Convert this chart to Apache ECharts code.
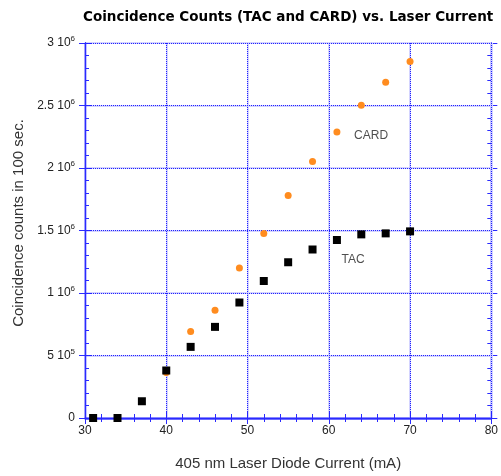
<!DOCTYPE html>
<html><head><meta charset="utf-8">
<script src="https://cdn.jsdelivr.net/npm/echarts@6/dist/echarts.min.js"></script>
<style>html,body{margin:0;padding:0;background:#fff}#c{width:501px;height:476px}</style>
</head><body><div id="c"></div>
<script>
var currents = [31, 34, 37, 40, 43, 46, 49, 52, 55, 58, 61, 64, 67, 70];
var tacCounts = [0, 0, 134000, 380000, 569000, 729000, 924000, 1096000, 1246000, 1348000, 1424000, 1469000, 1477000, 1493000];
var cardCurrents = [40, 43, 46, 49, 52, 55, 58, 61, 64, 67, 70];
var cardCounts = [365000, 693000, 863000, 1200000, 1477000, 1780000, 2052000, 2288000, 2502000, 2686000, 2852000];
var yTickValues = [0, 500000, 1000000, 1500000, 2000000, 2500000, 3000000];
var yTickMantissa = ['0', '5 10', '1 10', '1.5 10', '2 10', '2.5 10', '3 10'];
var yTickExponent = ['', '5', '6', '6', '6', '6', '6'];
var seriesLabels = [{name: 'CARD', x: 65.2, y: 2260000}, {name: 'TAC', x: 63.0, y: 1270000}];

var blue = '#2a2aff';
var gridBlue = '#2020ff';
var gridHalo = '#d4d4ff';
var labelFont = 'Liberation Sans, Arial, sans-serif';
function yFmt(v) {
  var i = yTickValues.indexOf(v);
  if (i < 0) return '';
  if (!yTickExponent[i]) return '{a|' + yTickMantissa[i] + '}';
  return '{a|' + yTickMantissa[i] + '}{b|' + yTickExponent[i] + '}';
}
function baseX(extra) {
  return Object.assign({type: 'value', min: 30, max: 80, interval: 10, gridIndex: 0,
    axisLine: {show: true, lineStyle: {color: blue, width: 1.3}},
    axisLabel: {show: false}, splitLine: {show: false}}, extra);
}
function baseY(extra) {
  return Object.assign({type: 'value', min: 0, max: 3000000, interval: 500000, gridIndex: 0,
    axisLine: {show: true, lineStyle: {color: blue, width: 1.3}},
    axisLabel: {show: false}, splitLine: {show: false}}, extra);
}
var inTick = {show: true, inside: true, length: 6, lineStyle: {color: blue}};
var outTick = {show: true, inside: false, length: 6, lineStyle: {color: blue}};
var minor = {show: true, splitNumber: 5, length: 4, lineStyle: {color: blue}};
var haloLine = {show: true, lineStyle: {color: gridHalo, type: 'solid', width: 2}};
var dotLine = {show: true, lineStyle: {color: gridBlue, type: [1, 1], width: 1}};

var chart = echarts.init(document.getElementById('c'), null, {renderer: 'canvas'});
chart.setOption({
  animation: false,
  backgroundColor: '#fff',
  title: {text: 'Coincidence Counts (TAC and CARD) vs. Laser Current', left: 83, top: 10, padding: 0,
    textStyle: {fontFamily: 'DejaVu Sans', fontWeight: 'bold', fontSize: 13.5, color: '#000'}},
  grid: {left: 85, right: 7, top: 43, bottom: 53, containLabel: false},
  xAxis: [
    baseX({position: 'bottom', axisTick: outTick, z: 2,
      axisLabel: {show: true, margin: 7, fontFamily: labelFont, fontSize: 12, color: '#222'},
      splitLine: dotLine,
      name: '405 nm Laser Diode Current (mA)', nameLocation: 'middle', nameGap: 38,
      nameTextStyle: {fontFamily: labelFont, fontSize: 15, color: '#333'}}),
    baseX({position: 'bottom', axisTick: inTick, minorTick: minor, splitLine: haloLine, z: 1}),
    baseX({position: 'top', axisTick: inTick, minorTick: minor}),
    baseX({position: 'top', axisTick: outTick})
  ],
  yAxis: [
    baseY({position: 'left', axisTick: outTick, z: 2,
      axisLabel: {show: true, margin: 10, formatter: yFmt,
        rich: {a: {fontFamily: labelFont, fontSize: 12, color: '#222'},
               b: {fontFamily: labelFont, fontSize: 8, color: '#222', padding: [0, 0, 8, 0]}}},
      splitLine: dotLine,
      name: 'Coincidence counts in 100 sec.', nameLocation: 'middle', nameGap: 58,
      nameTextStyle: {fontFamily: labelFont, fontSize: 15, color: '#333', padding: [0, 0, 0, 15]}}),
    baseY({position: 'left', axisTick: inTick, minorTick: minor, splitLine: haloLine, z: 1}),
    baseY({position: 'right', axisTick: inTick, minorTick: minor}),
    baseY({position: 'right', axisTick: outTick})
  ],
  series: [
    {type: 'scatter', name: 'CARD', xAxisIndex: 0, yAxisIndex: 0, symbol: 'circle', symbolSize: 7,
      itemStyle: {color: '#ff8c1f', opacity: 1}, z: 3,
      data: cardCurrents.map(function (c, i) { return [c, cardCounts[i]]; })},
    {type: 'scatter', name: 'TAC', xAxisIndex: 0, yAxisIndex: 0, symbol: 'rect', symbolSize: 8,
      itemStyle: {color: '#000', opacity: 1}, z: 4,
      data: currents.map(function (c, i) { return [c, tacCounts[i]]; })},
    {type: 'scatter', name: 'labels', xAxisIndex: 0, yAxisIndex: 0, symbolSize: 0, silent: true, z: 5,
      label: {show: true, position: 'inside', formatter: '{b}', fontFamily: labelFont, fontSize: 12, color: '#222'},
      data: seriesLabels.map(function (l) { return {name: l.name, value: [l.x, l.y]}; })}
  ]
});
</script></body></html>
